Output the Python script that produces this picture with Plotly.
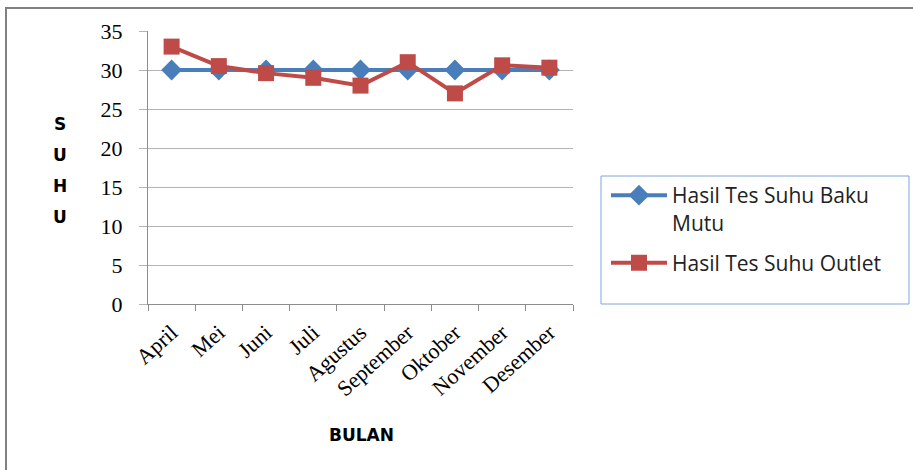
import plotly.graph_objects as go

# Monthly temperature test results
bulan = ["April", "Mei", "Juni", "Juli", "Agustus", "September", "Oktober", "November", "Desember"]
baku_mutu = [30, 30, 30, 30, 30, 30, 30, 30, 30]
outlet = [33, 30.5, 29.6, 29, 28, 31, 27, 30.6, 30.3]

W, H = 913, 470
L, R, T, B = 148, 573, 31, 304  # plot area in pixels


def px_x(x):
    return (x - L) / (R - L)


def px_y(y):
    return (B - y) / (B - T)


BLUE = "#4a7ebb"
RED = "#be4b48"
GRID = "#b4b4b4"
SERIF = "Liberation Serif, Times New Roman, serif"

fig = go.Figure()
fig.add_trace(go.Scatter(
    x=bulan, y=baku_mutu, mode="lines+markers",
    name="Hasil Tes Suhu Baku<br>Mutu", legendgroup="baku",
    line=dict(color=BLUE, width=4),
    marker=dict(symbol="diamond", size=16, color=BLUE),
))
fig.add_trace(go.Scatter(
    x=bulan, y=outlet, mode="lines+markers",
    name="Hasil Tes Suhu Outlet", legendgroup="outlet",
    line=dict(color=RED, width=4),
    marker=dict(symbol="square", size=16, color=RED),
))

fig.update_layout(
    width=W, height=H,
    margin=dict(l=L, r=W - R, t=T, b=H - B, pad=0),
    paper_bgcolor="white", plot_bgcolor="white",
    showlegend=True,
    legend=dict(
        x=px_x(606), y=px_y(175), xanchor="left", yanchor="top",
        font=dict(family="Open Sans, Noto Sans, sans-serif", size=21, color="#222222"),
        itemwidth=56, valign="top", tracegroupgap=10,
        bgcolor="rgba(0,0,0,0)", borderwidth=0,
    ),
    xaxis=dict(
        range=[-0.5, 8.5], showgrid=False,
        showline=True, linecolor="#8c8c8c", linewidth=1,
        ticks="outside", tickson="boundaries", ticklen=6, tickcolor="#8c8c8c",
        tickangle=-42, ticklabelstandoff=6,
        tickfont=dict(family=SERIF, size=22, color="black"),
        fixedrange=True,
    ),
    yaxis=dict(
        range=[0, 35], dtick=5, showgrid=True, gridcolor=GRID, gridwidth=1,
        showline=True, linecolor="#8c8c8c", linewidth=1,
        ticks="outside", ticklen=8, tickcolor=GRID,
        ticklabelstandoff=12,
        tickfont=dict(family=SERIF, size=22, color="black"),
        zeroline=False, fixedrange=True,
    ),
)

# Outer frame (top and left edges)
fig.add_shape(type="line", xref="paper", yref="paper",
              x0=px_x(5), x1=px_x(913), y0=px_y(8), y1=px_y(8),
              line=dict(color="#808080", width=2))
fig.add_shape(type="line", xref="paper", yref="paper",
              x0=px_x(6), x1=px_x(6), y0=px_y(8), y1=px_y(470),
              line=dict(color="#808080", width=2))

# Legend box
fig.add_shape(type="rect", xref="paper", yref="paper",
              x0=px_x(601), x1=px_x(909), y0=px_y(176), y1=px_y(304),
              line=dict(color="#7ea6d8", width=1))

# Vertical y-axis title
for i, ch in enumerate("SUHU"):
    fig.add_annotation(text="<b>%s</b>" % ch, xref="paper", yref="paper",
                       x=px_x(60), y=px_y(124 + i * 31), showarrow=False,
                       xanchor="center", yanchor="middle",
                       font=dict(family="DejaVu Sans, sans-serif", size=17, color="black"))

# x-axis title
fig.add_annotation(text="<b>BULAN</b>", xref="paper", yref="paper",
                   x=px_x(361), y=px_y(435), showarrow=False,
                   xanchor="center", yanchor="middle",
                   font=dict(family="DejaVu Sans, sans-serif", size=17, color="black"))

fig.write_html("out.html")
